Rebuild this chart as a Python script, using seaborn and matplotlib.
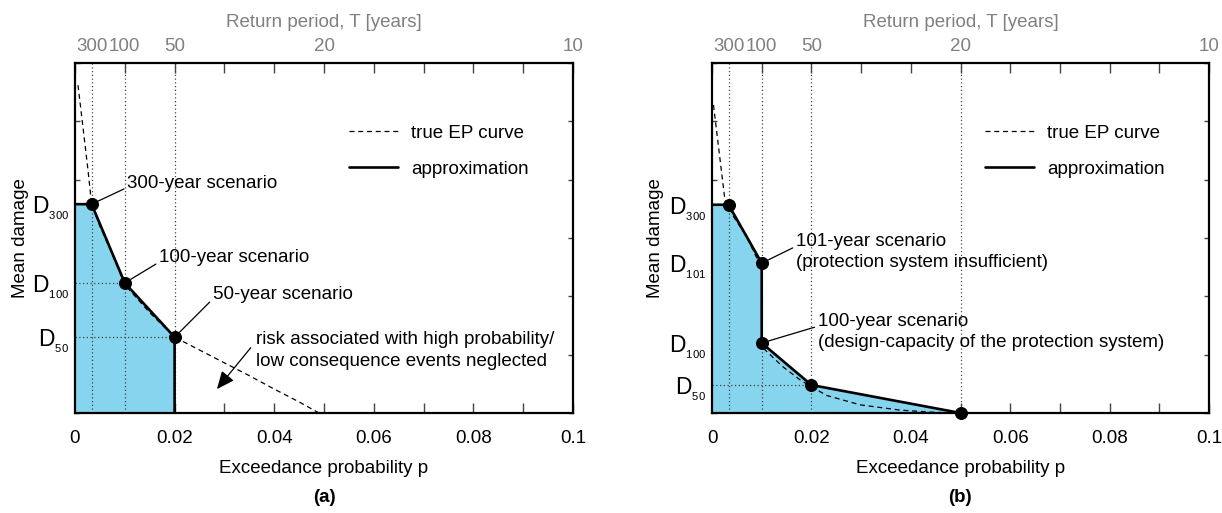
import matplotlib
matplotlib.use("Agg")
import matplotlib.pyplot as plt
import numpy as np
import seaborn as sns

# data
# damage axis runs 0..6 (arbitrary units)

# top axis: return periods
return_periods = [300, 100, 50, 20, 10]

# panel (a): approximation with 300, 100 and 50 year scenarios
a_approx_p = [0, 1/300, 0.01, 0.02, 0.02]
a_approx_d = [3.58, 3.58, 2.23, 1.30, 0.0]
a_pts_p = [1/300, 0.01, 0.02]
a_pts_d = [3.58, 2.23, 1.30]
a_true_p = [0.0006, 0.0016, 0.0026, 1/300, 0.005, 0.007, 0.01, 0.015, 0.02,
            0.025, 0.03, 0.035, 0.04, 0.045, 0.049]
a_true_d = [5.62, 4.9, 4.17, 3.58, 3.2, 2.82, 2.2, 1.72, 1.30,
            1.08, 0.86, 0.64, 0.41, 0.19, 0.0]
a_dlabels = ["300", "100", "50"]

# panel (b): protection system, 101 / 100 year jump, 20 year scenario
b_approx_p = [0, 1/300, 0.01, 0.01, 0.02, 0.05]
b_approx_d = [3.57, 3.57, 2.57, 1.20, 0.48, 0.0]
b_pts_p = [1/300, 0.01, 0.01, 0.02, 0.05]
b_pts_d = [3.57, 2.57, 1.20, 0.48, 0.0]
b_true_p = [0.0003, 0.0014, 0.0026, 1/300, 0.0043, 0.007, 0.0087, 0.01,
            0.01, 0.0107, 0.0143, 0.0177, 0.02, 0.0231, 0.0298, 0.0378, 0.045, 0.05]
b_true_d = [5.28, 4.5, 3.65, 3.55, 3.37, 3.02, 2.71, 2.5,
            1.20, 1.08, 0.79, 0.57, 0.45, 0.30, 0.14, 0.05, 0.01, 0.0]
b_dlabels = ["300", "101", "100", "50"]
b_dvalues = [3.57, 2.57, 1.20, 0.48]

sns.set_style("ticks")
plt.rcParams['font.family'] = ['Liberation Sans', 'DejaVu Sans']
plt.rcParams['mathtext.fontset'] = 'custom'
plt.rcParams['mathtext.rm'] = 'Liberation Sans'
plt.rcParams['mathtext.it'] = 'Liberation Sans'
plt.rcParams['font.size'] = 13.5
# plain black text like the original
plt.rcParams['text.color'] = 'black'
plt.rcParams['axes.labelcolor'] = 'black'
plt.rcParams['xtick.color'] = 'black'
plt.rcParams['ytick.color'] = 'black'

fill_col = '#86d4ed'
grey = '#808080'
fs = 13.5

fig = plt.figure(figsize=(12.22, 5.13), dpi=100)
ax_a = fig.add_axes([75/1222, 100/513, 498/1222, 350/513])
ax_b = fig.add_axes([712/1222, 100/513, 497/1222, 350/513])


def setup_axes(ax, dvals, dlabs):
    ax.set_xlim(0, 0.1)
    ax.set_ylim(0, 6)
    for s in ax.spines.values():
        s.set_visible(True)
        s.set_linewidth(1.6)
        s.set_color('black')
    ax.set_xticks([0, 0.02, 0.04, 0.06, 0.08, 0.1])
    ax.set_xticklabels(["0", "0.02", "0.04", "0.06", "0.08", "0.1"])
    ax.set_xticks([0.01, 0.03, 0.05, 0.07, 0.09], minor=True)
    ax.tick_params(axis='x', which='both', direction='in', top=True, bottom=True,
                   length=7.5, width=1.0, color='#444444', labelsize=fs, pad=12)
    # unlabeled ticks every unit of damage, D labels as minor ticks
    ax.set_yticks(range(7))
    ax.set_yticklabels([])
    ax.tick_params(axis='y', which='major', direction='in', left=True, right=True,
                   length=3.5, width=1.0, color='#444444')
    ax.set_yticks(dvals, minor=True)
    ax.set_yticklabels([r"$\mathregular{D}_{{}_{\mathregular{%s}}}$" % d for d in dlabs],
                       minor=True)
    ax.tick_params(axis='y', which='minor', left=False, right=False, length=0,
                   labelsize=fs + 3, pad=4)
    ax.set_xlabel("Exceedance probability p", fontsize=fs)
    ax.xaxis.set_label_coords(0.5, -0.133)
    ax.set_ylabel("Mean damage", fontsize=fs)

    sec = ax.secondary_xaxis('top')
    sec.set_xticks([1 / t for t in return_periods])
    sec.set_xticklabels([str(t) for t in return_periods], color=grey, fontsize=fs)
    sec.tick_params(axis='x', length=0, pad=6)
    sec.spines['top'].set_visible(False)
    sec.set_xlabel("Return period, T [years]", color=grey, fontsize=fs, labelpad=8)


setup_axes(ax_a, a_pts_d, a_dlabels)
setup_axes(ax_b, b_dvalues, b_dlabels)
ax_a.yaxis.set_label_coords(-0.092, 0.5)
ax_b.yaxis.set_label_coords(-0.097, 0.5)

dot_kw = dict(color='#444444', linestyle=(0, (1, 2)), linewidth=0.9, zorder=2)

# ---- panel (a)
ax_a.fill_between(a_approx_p, a_approx_d, 0, color=fill_col, lw=0, zorder=1)
for p in a_pts_p:
    ax_a.axvline(p, **dot_kw)
ax_a.plot([0, 0.01], [2.23, 2.23], **dot_kw)
ax_a.plot([0, 0.02], [1.30, 1.30], **dot_kw)
sns.lineplot(x=a_true_p, y=a_true_d, sort=False, estimator=None, ax=ax_a,
             color='black', lw=0.9, linestyle=(0, (4, 3)), label='true EP curve', zorder=3)
sns.lineplot(x=a_approx_p, y=a_approx_d, sort=False, estimator=None, ax=ax_a,
             color='black', lw=1.9, label='approximation', zorder=4)
sns.scatterplot(x=a_pts_p, y=a_pts_d, ax=ax_a, color='black', s=75, zorder=5,
                edgecolor='black', clip_on=False, legend=False)

line_kw = dict(arrowstyle='-', color='black', lw=0.9, shrinkA=0, shrinkB=5)
ax_a.annotate("300-year scenario", xy=(1/300, 3.58), xytext=(0.0105, 3.94),
              fontsize=fs, va='center', ha='left',
              arrowprops=dict(relpos=(0, 0.25), **line_kw))
ax_a.annotate("100-year scenario", xy=(0.01, 2.23), xytext=(0.0169, 2.66),
              fontsize=fs, va='center', ha='left',
              arrowprops=dict(relpos=(0, 0.25), **line_kw))
ax_a.annotate("50-year scenario", xy=(0.02, 1.30), xytext=(0.0277, 2.03),
              fontsize=fs, va='center', ha='left',
              arrowprops=dict(relpos=(0, 0.25), **line_kw))
ax_a.text(0.0363, 1.07, "risk associated with high probability/\nlow consequence events neglected",
          fontsize=fs, va='center', ha='left', linespacing=1.35)
ax_a.annotate("", xy=(0.0285, 0.41), xytext=(0.0353, 1.12),
              arrowprops=dict(arrowstyle='-|>,head_length=0.8,head_width=0.35',
                              color='black', lw=0.9, shrinkA=0, shrinkB=0))

# ---- panel (b)
ax_b.fill_between(b_approx_p, b_approx_d, 0, color=fill_col, lw=0, zorder=1)
for p in [1/300, 0.01, 0.02, 0.05]:
    ax_b.axvline(p, **dot_kw)
ax_b.plot([0, 0.02], [0.48, 0.48], **dot_kw)
sns.lineplot(x=b_true_p, y=b_true_d, sort=False, estimator=None, ax=ax_b,
             color='black', lw=0.9, linestyle=(0, (4, 3)), label='true EP curve', zorder=3)
sns.lineplot(x=b_approx_p, y=b_approx_d, sort=False, estimator=None, ax=ax_b,
             color='black', lw=1.9, label='approximation', zorder=4)
sns.scatterplot(x=b_pts_p, y=b_pts_d, ax=ax_b, color='black', s=75, zorder=5,
                edgecolor='black', clip_on=False, legend=False)

ax_b.annotate("101-year scenario\n(protection system insufficient)", xy=(0.01, 2.57),
              xytext=(0.0169, 2.76), fontsize=fs, va='center', ha='left', linespacing=1.3,
              arrowprops=dict(relpos=(0, 0.65), **line_kw))
ax_b.annotate("100-year scenario\n(design-capacity of the protection system)", xy=(0.01, 1.20),
              xytext=(0.0213, 1.39), fontsize=fs, va='center', ha='left', linespacing=1.3,
              arrowprops=dict(relpos=(0, 0.65), **line_kw))

for ax in (ax_a, ax_b):
    ax.legend(loc='upper left', bbox_to_anchor=(0.535, 0.845), frameon=False,
              fontsize=fs, handlelength=2.6, handletextpad=0.7, labelspacing=1.0,
              borderaxespad=0)

fig.text(324/1222, 1 - 497/513, "(a)", fontsize=fs, fontweight='bold', ha='center', va='center')
fig.text(960/1222, 1 - 497/513, "(b)", fontsize=fs, fontweight='bold', ha='center', va='center')

fig.savefig("out.png", dpi=100)
